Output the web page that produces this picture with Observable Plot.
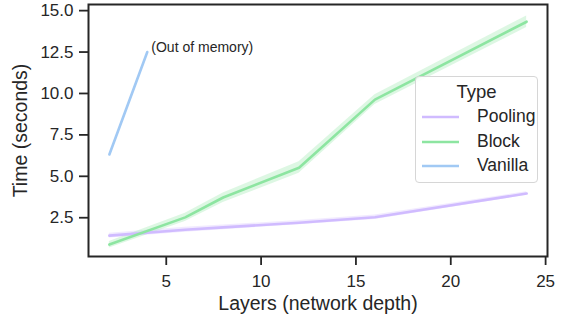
<!DOCTYPE html>
<html>
<head>
<meta charset="utf-8">
<script src="https://cdn.jsdelivr.net/npm/d3@7"></script>
<script src="https://cdn.jsdelivr.net/npm/@observablehq/plot@0.6"></script>
<style>
  html, body { margin: 0; padding: 0; background: #fff; }
  #wrap { position: relative; width: 562px; height: 315px; font-family: "Liberation Sans", Arial, sans-serif; }
  #legend { position: absolute; left: 415px; top: 76px; width: 123px; height: 107px;
    border: 1.3px solid #d6d6d6; border-radius: 4px; background: rgba(255,255,255,0.85); box-sizing: border-box; color: #262626; }
  #legend .title { position: absolute; left: 0; width: 100%; text-align: center; top: 4px; font-size: 18.5px; }
  #legend .row { position: absolute; left: 5px; height: 20px; }
  #legend .row svg { position: absolute; left: 0; top: 0; }
  #legend .row span { position: absolute; left: 56px; top: -1px; font-size: 17.5px; white-space: nowrap; }
</style>
</head>
<body>
<div id="wrap"></div>
<script>
// ---- data ----
const types = ["Pooling", "Block", "Vanilla"];
const colors = ["#d0bbff", "#8de5a1", "#a1c9f4"];

const layers = [2, 6, 8, 12, 16, 24];
const poolingTime = [1.42, 1.77, 1.92, 2.20, 2.53, 3.96];
const poolingLow  = [1.28, 1.62, 1.78, 2.08, 2.40, 3.85];
const poolingHigh = [1.56, 1.93, 2.06, 2.33, 2.67, 4.07];
const blockTime = [0.88, 2.52, 3.72, 5.52, 9.63, 14.33];
const blockLow  = [0.68, 2.28, 3.42, 5.18, 9.33, 13.98];
const blockHigh = [1.07, 2.77, 4.00, 5.88, 9.93, 14.68];
const vanillaLayers = [2, 4];
const vanillaTime = [6.32, 12.5];

const xTicks = [5, 10, 15, 20, 25];
const yTicks = [2.5, 5.0, 7.5, 10.0, 12.5, 15.0];
const annotation = "(Out of memory)";
const xLabel = "Layers (network depth)";
const yLabel = "Time (seconds)";
const legendTitle = "Type";

// ---- tables ----
const rows = [];
layers.forEach((l, i) => rows.push({type: "Pooling", layers: l, time: poolingTime[i], lo: poolingLow[i], hi: poolingHigh[i]}));
layers.forEach((l, i) => rows.push({type: "Block", layers: l, time: blockTime[i], lo: blockLow[i], hi: blockHigh[i]}));
const vanilla = vanillaLayers.map((l, i) => ({type: "Vanilla", layers: l, time: vanillaTime[i]}));
const lastVanilla = [vanilla[vanilla.length - 1]];

const ink = "#262626";
const font = "Liberation Sans, Arial, sans-serif";

const chart = Plot.plot({
  width: 562,
  height: 315,
  marginLeft: 88,
  marginRight: 15,
  marginTop: 4,
  marginBottom: 59,
  style: {fontFamily: font, color: ink, background: "white"},
  x: {domain: [0.9, 25.1]},
  y: {domain: [0.16, 15.37]},
  color: {domain: types, range: colors},
  marks: [
    Plot.areaY(rows, {x: "layers", y1: "lo", y2: "hi", z: "type", fill: "type", fillOpacity: 0.3}),
    Plot.line(rows, {x: "layers", y: "time", z: "type", stroke: "type", strokeWidth: 2.6}),
    Plot.line(vanilla, {x: "layers", y: "time", stroke: "type", strokeWidth: 2.6}),
    Plot.text(lastVanilla, {x: "layers", y: "time", text: () => annotation, textAnchor: "start", dx: 4, dy: -5, fontSize: 14, fill: ink}),
    Plot.axisX({ticks: xTicks, tickSize: 9, tickPadding: 9, fontSize: 17, stroke: ink, strokeWidth: 1.8, color: ink,
      label: xLabel, labelAnchor: "center", labelOffset: 53, labelArrow: "none"}),
    Plot.axisY({ticks: yTicks, tickFormat: d3.format(".1f"), tickSize: 9, tickPadding: 6, fontSize: 17, stroke: ink, strokeWidth: 1.8, color: ink,
      label: yLabel, labelAnchor: "center", labelOffset: 75, labelArrow: "none"}),
    Plot.frame({stroke: ink, strokeWidth: 2})
  ]
});

// enlarge axis-label font
chart.querySelectorAll("text").forEach(el => {
  if (el.textContent === xLabel || el.textContent === yLabel) el.setAttribute("font-size", "19.5");
});

const wrap = document.getElementById("wrap");
wrap.appendChild(chart);

// legend (inside plot area)
const legend = document.createElement("div");
legend.id = "legend";
const t = document.createElement("div");
t.className = "title";
t.textContent = legendTitle;
legend.appendChild(t);
types.forEach((name, i) => {
  const row = document.createElement("div");
  row.className = "row";
  row.style.top = (30 + i * 24.5) + "px";
  row.innerHTML = `<svg width="40" height="20"><line x1="1" x2="38" y1="10" y2="10" stroke="${colors[i]}" stroke-width="2.6"/></svg><span>${name}</span>`;
  legend.appendChild(row);
});
wrap.appendChild(legend);
</script>
</body>
</html>
